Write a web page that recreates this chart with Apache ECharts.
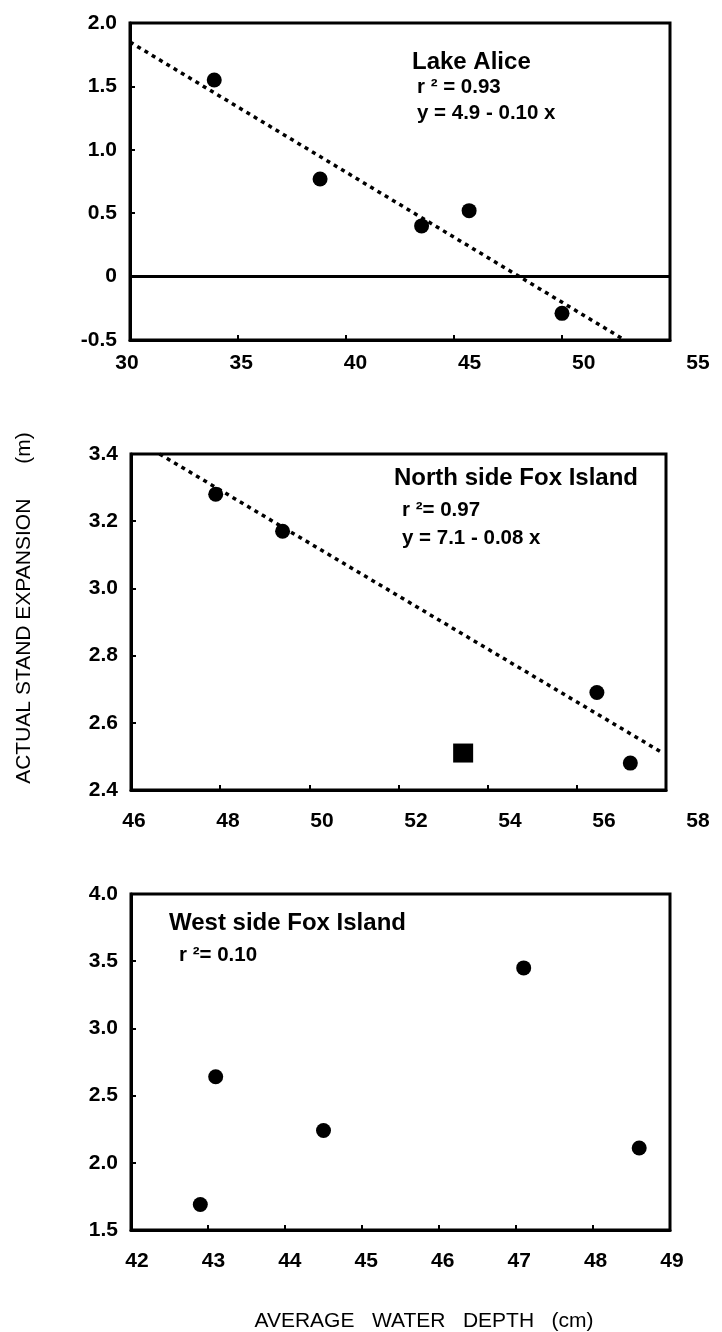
<!DOCTYPE html>
<html>
<head>
<meta charset="utf-8">
<script src="https://cdn.jsdelivr.net/npm/echarts@6/dist/echarts.min.js"></script>
<style>
  html, body { margin: 0; padding: 0; background: #fff; }
  #chart { width: 722px; height: 1332px; }
</style>
</head>
<body>
<div id="chart"></div>
<script>
// ---------- Data ----------
// Panel 1: Lake Alice
const lakeAliceX = [33.9, 38.8, 43.5, 45.7, 50.0];
const lakeAliceY = [1.55, 0.77, 0.40, 0.52, -0.29];
const lakeAliceFitX = [30, 52.9];
const lakeAliceFitY = [1.85, -0.50];
const lakeAliceZeroX = [30, 55];
const lakeAliceZeroY = [0, 0];
const lakeAliceXTicks = [30, 55, 5];      // min, max, interval
const lakeAliceYTicks = [-0.5, 2.0, 0.5];

// Panel 2: North side Fox Island
const northX = [47.9, 49.4, 56.45, 57.2];
const northY = [3.28, 3.17, 2.69, 2.48];
const northSquareX = [53.45];
const northSquareY = [2.51];
const northFitX = [46.64, 57.93];
const northFitY = [3.40, 2.51];
const northXTicks = [46, 58, 2];
const northYTicks = [2.4, 3.4, 0.2];

// Panel 3: West side Fox Island
const westX = [42.9, 43.1, 44.5, 47.1, 48.6];
const westY = [1.69, 2.64, 2.24, 3.45, 2.11];
const westXTicks = [42, 49, 1];
const westYTicks = [1.5, 4.0, 0.5];

// Texts
const panelTitles = ['Lake Alice', 'North side Fox Island', 'West side Fox Island'];
const panelStats = [
  ['r \u00B2 = 0.93', 'y = 4.9 - 0.10 x'],
  ['r \u00B2= 0.97', 'y = 7.1 - 0.08 x'],
  ['r \u00B2= 0.10']
];
const yTitle = 'ACTUAL STAND EXPANSION      (m)';
const xTitle = 'AVERAGE   WATER   DEPTH   (cm)';

// ---------- Chart ----------
const FONT = '"Liberation Sans", Arial, Helvetica, sans-serif';
const TICK_FS = 21;
const zip = (xs, ys) => xs.map((x, i) => [x, ys[i]]);

const grids = [
  { left: 130, right: 52, top: 23, height: 317 },
  { left: 131, right: 56, top: 454, height: 336 },
  { left: 131, right: 52, top: 894, height: 336 }
];
// label-only grids (tick labels in the original drift slightly from ticks)
const labelGrids = [
  { left: 127, right: 24, top: 23, height: 317, margin: 13 },
  { left: 134, right: 24, top: 454, height: 336, margin: 21 },
  { left: 137, right: 50, top: 894, height: 336, margin: 21 }
];
const xTicks = [lakeAliceXTicks, northXTicks, westXTicks];
const yTicks = [lakeAliceYTicks, northYTicks, westYTicks];

const gridOpt = [];
const xAxes = [];
const yAxes = [];
grids.forEach((g, i) => {
  gridOpt.push({
    left: g.left, right: g.right, top: g.top, height: g.height,
    show: true, borderColor: '#000', borderWidth: 3, backgroundColor: 'transparent',
    containLabel: false, outerBoundsMode: 'none'
  });
  xAxes.push({
    type: 'value', gridIndex: i,
    min: xTicks[i][0], max: xTicks[i][1], interval: xTicks[i][2],
    axisLine: { show: true, onZero: false, lineStyle: { color: '#000', width: 3 } },
    axisTick: { show: true, inside: true, length: 5, lineStyle: { color: '#000', width: 2 } },
    axisLabel: { show: false },
    splitLine: { show: false }
  });
  yAxes.push({
    type: 'value', gridIndex: i,
    min: yTicks[i][0], max: yTicks[i][1], interval: yTicks[i][2],
    axisLine: { show: true, onZero: false, lineStyle: { color: '#000', width: 3 } },
    axisTick: { show: true, inside: true, length: 5, lineStyle: { color: '#000', width: 2 } },
    axisLabel: {
      show: true, margin: 13, color: '#000', fontSize: TICK_FS, fontWeight: 'bold', fontFamily: FONT,
      showMinLabel: true, showMaxLabel: true,
      formatter: v => (Math.abs(v) < 1e-9 ? '0' : Number(v).toFixed(1))
    },
    splitLine: { show: false }
  });
});
labelGrids.forEach((g, j) => {
  const i = grids.length + j;
  gridOpt.push({
    left: g.left, right: g.right, top: g.top, height: g.height, show: false,
    containLabel: false, outerBoundsMode: 'none'
  });
  xAxes.push({
    type: 'value', gridIndex: i,
    min: xTicks[j][0], max: xTicks[j][1], interval: xTicks[j][2],
    axisLine: { show: false }, axisTick: { show: false }, splitLine: { show: false },
    axisLabel: {
      show: true, margin: g.margin, color: '#000', fontSize: TICK_FS, fontWeight: 'bold', fontFamily: FONT,
      showMinLabel: true, showMaxLabel: true, hideOverlap: false
    }
  });
  yAxes.push({
    type: 'value', gridIndex: i, show: false,
    min: yTicks[j][0], max: yTicks[j][1]
  });
});

const dotStyle = { color: '#000', opacity: 1 };
const fitLineStyle = { color: '#000', width: 3.5, type: [4, 4.5], opacity: 1 };

const series = [
  // Panel 1
  { type: 'line', xAxisIndex: 0, yAxisIndex: 0, data: zip(lakeAliceZeroX, lakeAliceZeroY),
    showSymbol: false, lineStyle: { color: '#000', width: 3 }, silent: true, z: 2 },
  { type: 'line', xAxisIndex: 0, yAxisIndex: 0, data: zip(lakeAliceFitX, lakeAliceFitY),
    showSymbol: false, lineStyle: fitLineStyle, silent: true, z: 2 },
  { type: 'scatter', xAxisIndex: 0, yAxisIndex: 0, data: zip(lakeAliceX, lakeAliceY),
    symbol: 'circle', symbolSize: 15, itemStyle: dotStyle, z: 3 },
  // Panel 2
  { type: 'line', xAxisIndex: 1, yAxisIndex: 1, data: zip(northFitX, northFitY),
    showSymbol: false, lineStyle: fitLineStyle, silent: true, z: 2 },
  { type: 'scatter', xAxisIndex: 1, yAxisIndex: 1, data: zip(northX, northY),
    symbol: 'circle', symbolSize: 15, itemStyle: dotStyle, z: 3 },
  { type: 'scatter', xAxisIndex: 1, yAxisIndex: 1, data: zip(northSquareX, northSquareY),
    symbol: 'rect', symbolSize: [20, 19], itemStyle: dotStyle, z: 3 },
  // Panel 3
  { type: 'scatter', xAxisIndex: 2, yAxisIndex: 2, data: zip(westX, westY),
    symbol: 'circle', symbolSize: 15, itemStyle: dotStyle, z: 3 }
];

// annotation text positions
const titlePos = [[412, 62], [394, 478], [169, 923]];
const statPos = [[[417, 87], [417, 113]], [[402, 510], [402, 538]], [[179, 955]]];
const graphics = [];
panelTitles.forEach((t, i) => {
  graphics.push({
    type: 'text', x: titlePos[i][0], y: titlePos[i][1], silent: true,
    style: { text: t, fill: '#000', fontSize: 24, fontWeight: 'bold', fontFamily: FONT,
             align: 'left', verticalAlign: 'middle' }
  });
  panelStats[i].forEach((s, k) => {
    graphics.push({
      type: 'text', x: statPos[i][k][0], y: statPos[i][k][1], silent: true,
      style: { text: s, fill: '#000', fontSize: 20.5, fontWeight: 'bold', fontFamily: FONT,
               align: 'left', verticalAlign: 'middle' }
    });
  });
});
graphics.push({
  type: 'text', x: 24, y: 608, rotation: Math.PI / 2, silent: true,
  style: { text: yTitle, fill: '#000', fontSize: 21, fontFamily: FONT,
           align: 'center', verticalAlign: 'middle' }
});
graphics.push({
  type: 'text', x: 424, y: 1321, silent: true,
  style: { text: xTitle, fill: '#000', fontSize: 21, fontFamily: FONT,
           align: 'center', verticalAlign: 'middle' }
});

const chart = echarts.init(document.getElementById('chart'), null, { renderer: 'canvas' });
chart.setOption({
  animation: false,
  backgroundColor: '#fff',
  grid: gridOpt,
  xAxis: xAxes,
  yAxis: yAxes,
  series: series,
  graphic: graphics
});
</script>
</body>
</html>
